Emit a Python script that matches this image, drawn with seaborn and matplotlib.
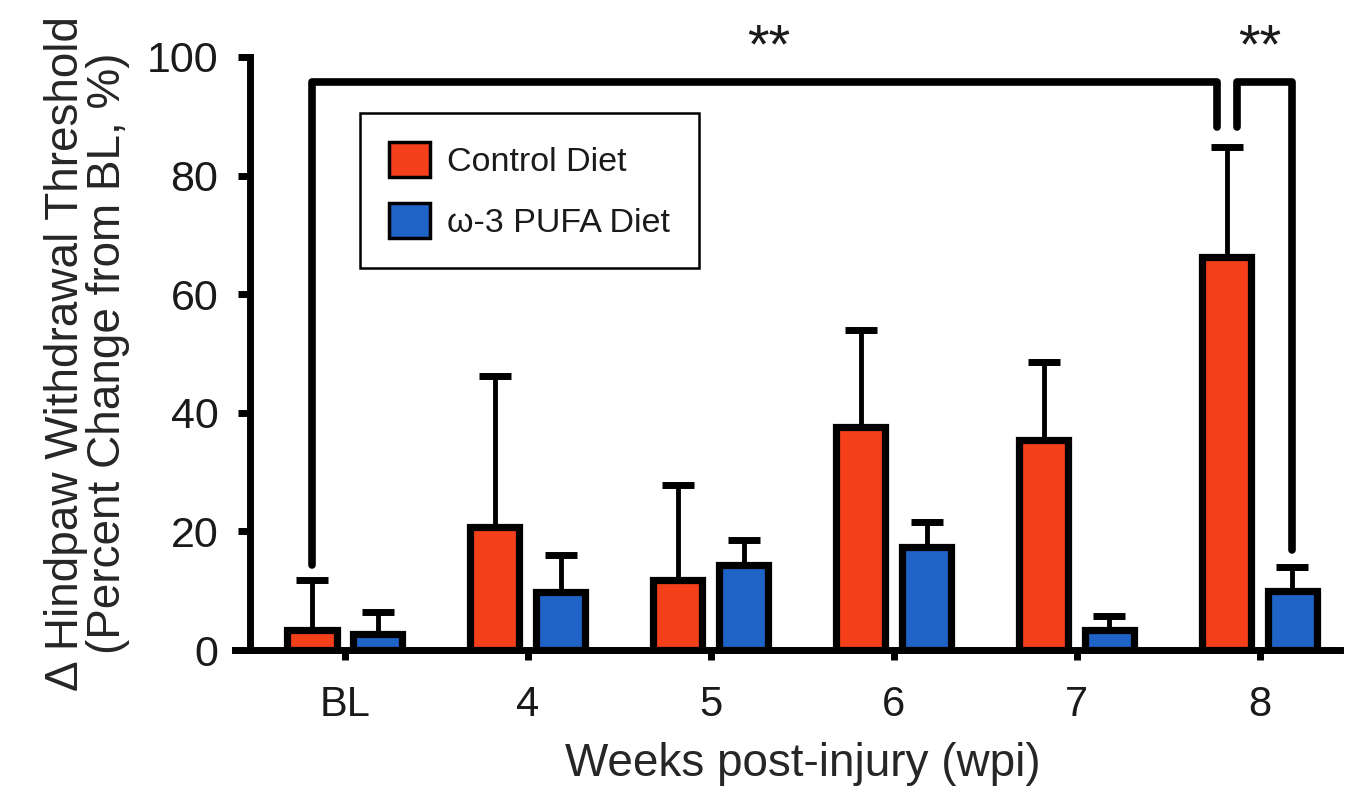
import numpy as np
import pandas as pd
import matplotlib
matplotlib.use("Agg")
import matplotlib.pyplot as plt
import seaborn as sns

# ---- data ----
categories = ["BL", "4", "5", "6", "7", "8"]
groups = ["Control Diet", "\u03c9-3 PUFA Diet"]
control_mean = [3.4, 20.8, 11.8, 37.6, 35.4, 66.3]
control_sem = [8.4, 25.4, 16.0, 16.4, 13.2, 18.5]
pufa_mean = [2.7, 9.8, 14.3, 17.4, 3.4, 9.9]
pufa_sem = [3.7, 6.2, 4.2, 4.2, 2.3, 4.1]
y_ticks = [0, 20, 40, 60, 80, 100]

# significance annotations (y levels in data units)
sig_text = "**"
bracket_top = 95.8
bracket_drop = 88.2
left_leg_end = 14.3
right_leg_end = 16.9

colors = {"Control Diet": "#F43F1B", "\u03c9-3 PUFA Diet": "#1F63C6"}

sns.set_theme(style="white")
plt.rcParams["font.family"] = ["Liberation Sans", "DejaVu Sans"]
plt.rcParams["text.color"] = "#1a1a1a"

df = pd.DataFrame({
    "wpi": categories * 2,
    "group": [groups[0]] * len(categories) + [groups[1]] * len(categories),
    "value": control_mean + pufa_mean,
})

fig = plt.figure(figsize=(13.56, 7.93), dpi=100)
ax = fig.add_axes([235 / 1356, 1 - 650 / 793, (1340 - 235) / 1356, (650 - 57) / 793])

sns.barplot(data=df, x="wpi", y="value", hue="group", order=categories,
            hue_order=groups, palette=colors, saturation=1, errorbar=None,
            width=0.72, gap=0.25, edgecolor="black", linewidth=5.2, ax=ax,
            zorder=3)

# error bars (upper only)
for cont, sem in zip(ax.containers, [control_sem, pufa_sem]):
    xs = [p.get_x() + p.get_width() / 2 for p in cont.patches]
    hs = [p.get_height() for p in cont.patches]
    ax.errorbar(xs, hs, yerr=[np.zeros(len(sem)), sem], fmt="none",
                ecolor="black", elinewidth=3.5, capsize=11.5, capthick=5,
                zorder=2)

ctrl_x = [p.get_x() + p.get_width() / 2 for p in ax.containers[0].patches]
pufa_x = [p.get_x() + p.get_width() / 2 for p in ax.containers[1].patches]
off = 0.055
lw = 5.5
kw = dict(color="black", lw=lw, solid_capstyle="round", solid_joinstyle="round",
          clip_on=False, zorder=4)
ax.plot([ctrl_x[0], ctrl_x[0], ctrl_x[-1] - off, ctrl_x[-1] - off],
        [left_leg_end, bracket_top, bracket_top, bracket_drop], **kw)
ax.plot([ctrl_x[-1] + off, ctrl_x[-1] + off, pufa_x[-1], pufa_x[-1]],
        [bracket_drop, bracket_top, bracket_top, right_leg_end], **kw)
ax.text((ctrl_x[0] + ctrl_x[-1]) / 2, 101.5, sig_text, ha="center", va="center",
        fontsize=40, clip_on=False)
ax.text((ctrl_x[-1] + pufa_x[-1]) / 2, 101.5, sig_text, ha="center", va="center",
        fontsize=40, clip_on=False)

ax.set_ylim(0, 100)
ax.set_xlim(-0.6, 5.44)
ax.set_yticks(y_ticks)
ax.set_yticklabels([str(t) for t in y_ticks])
ax.set_xlabel("Weeks post-injury (wpi)", fontsize=33)
ax.xaxis.set_label_coords((803 - 235) / 1105, -0.155)
ax.set_ylabel("\u0394 Hindpaw Withdrawal Threshold\n(Percent Change from BL, %)",
              fontsize=33, labelpad=12, linespacing=0.95)

for s in ["top", "right"]:
    ax.spines[s].set_visible(False)
for s in ["left", "bottom"]:
    ax.spines[s].set_color("black")
    ax.spines[s].set_linewidth(5)
ax.spines["left"].set_position(("outward", -11))
ax.tick_params(axis="y", length=9, width=5, direction="out", pad=14,
               labelsize=31, left=True, colors="black", labelcolor="#1a1a1a")
ax.tick_params(axis="x", length=7, width=5, direction="out", pad=18,
               labelsize=30, bottom=True, colors="black", labelcolor="#1a1a1a")

leg = ax.legend(loc="upper left", bbox_to_anchor=((360 - 235) / 1105, (650 - 113) / 593),
                fontsize=24.5, frameon=True, fancybox=False, edgecolor="black",
                framealpha=1, handlelength=1.2, handleheight=1.2,
                handletextpad=0.5, labelspacing=0.75, borderpad=0.85,
                borderaxespad=0)
leg.get_frame().set_linewidth(1.8)
for h in leg.legend_handles:
    h.set_edgecolor("black")
    h.set_linewidth(2.5)

fig.savefig("out.png", dpi=100)
